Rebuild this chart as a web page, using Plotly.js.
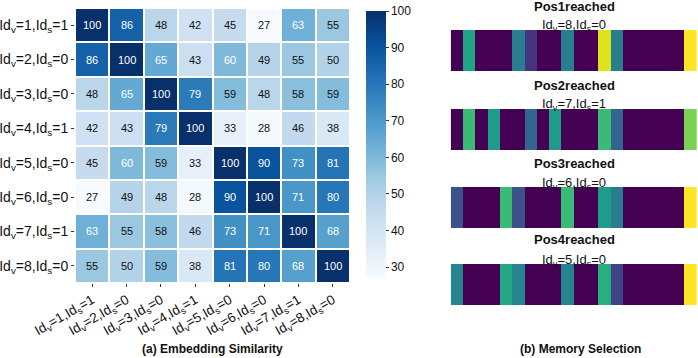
<!DOCTYPE html>
<html>
<head>
<meta charset="utf-8">
<script src="https://cdn.plot.ly/plotly-3.0.1.min.js"></script>
<style>
  html, body { margin: 0; padding: 0; background: #fff; }
  #chart { width: 698px; height: 358px; }
</style>
</head>
<body>
<div id="chart"></div>
<script>
// (a) embedding similarity between the 8 memory ids
const idLabels = [
  "Id<sub>v</sub>=1,Id<sub>s</sub>=1",
  "Id<sub>v</sub>=2,Id<sub>s</sub>=0",
  "Id<sub>v</sub>=3,Id<sub>s</sub>=0",
  "Id<sub>v</sub>=4,Id<sub>s</sub>=1",
  "Id<sub>v</sub>=5,Id<sub>s</sub>=0",
  "Id<sub>v</sub>=6,Id<sub>s</sub>=0",
  "Id<sub>v</sub>=7,Id<sub>s</sub>=1",
  "Id<sub>v</sub>=8,Id<sub>s</sub>=0"
];
const similarity = [
  [100, 86, 48, 42, 45, 27, 63, 55],
  [86, 100, 65, 43, 60, 49, 55, 50],
  [48, 65, 100, 79, 59, 48, 58, 59],
  [42, 43, 79, 100, 33, 28, 46, 38],
  [45, 60, 59, 33, 100, 90, 73, 81],
  [27, 49, 48, 28, 90, 100, 71, 80],
  [63, 55, 58, 46, 73, 71, 100, 68],
  [55, 50, 59, 38, 81, 80, 68, 100]
];
const cbTicks = [30, 40, 50, 60, 70, 80, 90, 100];

// (b) memory selection weights, 20 slots per step
const stepTitles = ["Pos1reached", "Pos2reached", "Pos3reached", "Pos4reached"];
const stepIds = [
  "Id<sub>v</sub>=8,Id<sub>s</sub>=0",
  "Id<sub>v</sub>=7,Id<sub>s</sub>=1",
  "Id<sub>v</sub>=6,Id<sub>s</sub>=0",
  "Id<sub>v</sub>=5,Id<sub>s</sub>=0"
];
const pos1 = [0, 0.58, 0, 0, 0, 0.42, 0.15, 0, 0, 0.42, 0, 0, 0.95, 0.42, 0, 0, 0, 0, 0, 1];
const pos2 = [0, 0.68, 0, 0.55, 0, 0, 0.33, 0, 0.55, 0, 0, 0, 0.68, 0.32, 0, 0, 0, 0, 0, 0.8];
const pos3 = [0.25, 0, 0, 0, 0.68, 0.25, 0, 0, 0, 0.68, 0, 0, 0.55, 0.42, 0, 0, 0, 0, 0, 1];
const pos4 = [0.45, 0, 0, 0, 0.6, 0.45, 0, 0, 0, 0.45, 0, 0, 0.63, 0.2, 0, 0, 0, 0, 0, 1];
const steps = [pos1, pos2, pos3, pos4];

const W = 698, H = 358;
const FONT = "Liberation Sans, Arial, sans-serif";

// matplotlib "Blues"
const blues = [
  [0, "#f7fbff"], [0.125, "#deebf7"], [0.25, "#c6dbef"], [0.375, "#9ecae1"],
  [0.5, "#6baed6"], [0.625, "#4292c6"], [0.75, "#2171b5"], [0.875, "#08519c"], [1, "#08306b"]
];

const px = v => v / W;
const py = v => 1 - v / H;

const traces = [{
  type: "heatmap",
  x: idLabels,
  y: idLabels,
  z: similarity,
  zmin: 27,
  zmax: 100,
  colorscale: blues,
  xgap: 2,
  ygap: 2,
  hoverinfo: "z",
  colorbar: {
    x: px(366), xanchor: "left", xpad: 0,
    y: py(11), yanchor: "top", ypad: 0,
    len: 267, lenmode: "pixels",
    thickness: 20,
    outlinewidth: 0,
    ticks: "outside", ticklen: 3, tickcolor: "#333",
    tickvals: cbTicks,
    tickfont: { size: 12, color: "#111" }
  }
}];

const annotations = [];
similarity.forEach((row, i) => {
  row.forEach((v, j) => {
    annotations.push({
      x: idLabels[j], y: idLabels[i], xref: "x", yref: "y",
      text: String(v), showarrow: false,
      font: { size: 11, color: v >= 60 ? "#fff" : "#111" }
    });
  });
});

const layout = {
  width: W, height: H,
  margin: { l: 0, r: 0, t: 0, b: 0 },
  paper_bgcolor: "#fff",
  plot_bgcolor: "#fff",
  font: { family: FONT, color: "#111" },
  showlegend: false,
  xaxis: {
    domain: [px(75), px(350)],
    anchor: "y",
    tickangle: -30,
    ticks: "outside", ticklen: 3, tickcolor: "#333",
    tickfont: { size: 13.5 },
    showgrid: false, zeroline: false, showline: false
  },
  yaxis: {
    domain: [py(283), py(8)],
    anchor: "x",
    autorange: "reversed",
    ticks: "outside", ticklen: 3, tickcolor: "#333",
    tickfont: { size: 14 },
    showgrid: false, zeroline: false, showline: false
  },
  annotations: annotations
};

const stripTops = [30, 109, 187, 264];
const stripH = 41;
steps.forEach((vals, k) => {
  const n = k + 2;
  traces.push({
    type: "heatmap",
    z: [vals],
    x: vals.map((_, i) => i),
    xaxis: "x" + n,
    yaxis: "y" + n,
    zmin: 0, zmax: 1,
    colorscale: "Viridis",
    showscale: false,
    hoverinfo: "z"
  });
  layout["xaxis" + n] = {
    domain: [px(450.7), px(697)],
    anchor: "y" + n,
    visible: false, range: [-0.5, vals.length - 0.5]
  };
  layout["yaxis" + n] = {
    domain: [py(stripTops[k] + stripH), py(stripTops[k])],
    anchor: "x" + n,
    visible: false
  };
  annotations.push({
    xref: "paper", yref: "paper", x: px(574), y: py(stripTops[k] - 24),
    xanchor: "center", yanchor: "middle",
    text: "<b>" + stepTitles[k] + "</b>", showarrow: false,
    font: { size: 13, color: "#111" }
  });
  annotations.push({
    xref: "paper", yref: "paper", x: px(574), y: py(stripTops[k] - 4),
    xanchor: "center", yanchor: "middle",
    text: stepIds[k], showarrow: false,
    font: { size: 13, color: "#111" }
  });
});

annotations.push({
  xref: "paper", yref: "paper", x: px(212), y: py(349),
  xanchor: "center", yanchor: "middle",
  text: "<b>(a) Embedding Similarity</b>", showarrow: false,
  font: { size: 12, color: "#111" }
});
annotations.push({
  xref: "paper", yref: "paper", x: px(580), y: py(349),
  xanchor: "center", yanchor: "middle",
  text: "<b>(b) Memory Selection</b>", showarrow: false,
  font: { size: 12, color: "#111" }
});

Plotly.newPlot("chart", traces, layout, { displayModeBar: false, staticPlot: true });
</script>
</body>
</html>
